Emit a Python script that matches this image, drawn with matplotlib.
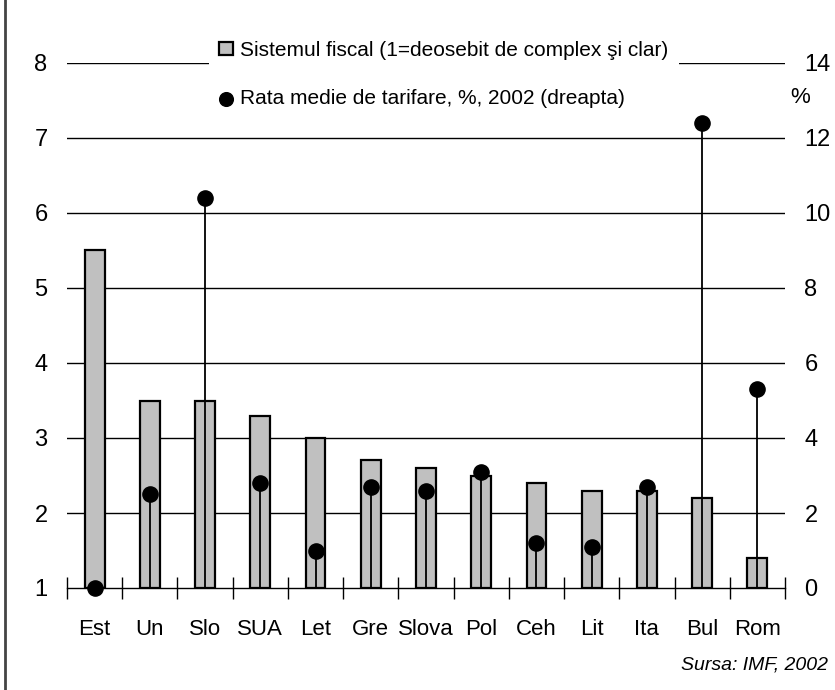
import matplotlib
matplotlib.use("Agg")
import matplotlib.pyplot as plt
import numpy as np
from matplotlib.lines import Line2D

plt.rcParams['font.family'] = ['Liberation Sans', 'DejaVu Sans']

categories = ["Est", "Un", "Slo", "SUA", "Let", "Gre", "Slova", "Pol", "Ceh", "Lit", "Ita", "Bul", "Rom"]
fiscal = [5.5, 3.5, 3.5, 3.3, 3.0, 2.7, 2.6, 2.5, 2.4, 2.3, 2.3, 2.2, 1.4]
tariff = [0.0, 2.5, 10.4, 2.8, 1.0, 2.7, 2.6, 3.1, 1.2, 1.1, 2.7, 12.4, 5.3]
left_ticks = [1, 2, 3, 4, 5, 6, 7, 8]
right_ticks = [0, 2, 4, 6, 8, 10, 12, 14]
label_bar = "Sistemul fiscal (1=deosebit de complex şi clar)"
label_dot = "Rata medie de tarifare, %, 2002 (dreapta)"

FS = 17
fig = plt.figure(figsize=(8.35, 6.9), dpi=100)
ax = fig.add_axes([67/835, 1-588/690, 718/835, 525/690])
x = np.arange(len(categories))

ax.set_ylim(1, 8)
ax.set_xlim(-0.5, len(categories) - 0.5)
ax.set_yticks(left_ticks)
for v in left_ticks[1:]:
    ax.axhline(v, color='black', lw=1.0, zorder=0)
bars = ax.bar(x, [f - 1 for f in fiscal], bottom=1, width=0.36, color='#C0C0C0',
              edgecolor='black', linewidth=1.6, zorder=2, label=label_bar)

for s in ['top', 'right', 'left']:
    ax.spines[s].set_visible(False)
ax.spines['bottom'].set_linewidth(1.0)
ax.tick_params(axis='y', length=0, pad=14, labelsize=FS)
ax.set_xticks(x)
ax.set_xticklabels(categories, fontsize=16)
ax.set_xticks(np.arange(-0.5, len(categories)), minor=True)
ax.tick_params(axis='x', which='major', length=0, pad=22)
ax.tick_params(axis='x', which='minor', length=16, direction='inout', width=1.0)

ax2 = ax.twinx()
ax2.set_ylim(0, 14)
ax2.set_yticks(right_ticks)
for s in ['top', 'right', 'left', 'bottom']:
    ax2.spines[s].set_visible(False)
ax2.tick_params(axis='y', length=0, pad=14, labelsize=FS)
ax2.vlines(x, 0, tariff, color='black', lw=1.3, zorder=3)
dots = ax2.scatter(x, tariff, s=120, color='black', zorder=4, clip_on=False, label=label_dot)
ax2.text(1.007, 0.935, "%", transform=ax2.transAxes, fontsize=16, ha='left', va='center')

leg = ax2.legend([bars, dots], [label_bar, label_dot], loc='upper center',
                 bbox_to_anchor=(444/835, 1-20/690), bbox_transform=fig.transFigure,
                 frameon=True, fontsize=15, handlelength=0.65, handleheight=0.65,
                 handletextpad=0.35, labelspacing=1.4, borderpad=0.5,
                 scatterpoints=1, markerscale=0.9)
leg.get_frame().set_facecolor('white')
leg.get_frame().set_edgecolor('none')
leg.get_frame().set_alpha(1)

fig.text(828/835, 1-665/690, "Sursa: IMF, 2002", ha='right', va='center',
         fontsize=14, style='italic')
fig.add_artist(Line2D([5/835, 5/835], [0, 1], transform=fig.transFigure,
                      color='#444444', lw=2))

fig.savefig("out.png", dpi=100)
